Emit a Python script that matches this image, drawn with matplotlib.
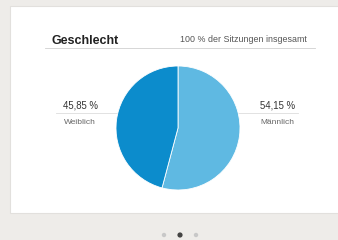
import matplotlib
matplotlib.use("Agg")
import matplotlib.pyplot as plt
from matplotlib.patches import Rectangle, Circle

title = "Geschlecht"
subtitle = "100 % der Sitzungen insgesamt"
categories = ["Männlich", "Weiblich"]
values = [54.15, 45.85]
value_labels = ["54,15 %", "45,85 %"]
colors = ["#5fb9e2", "#0c8ccc"]

W, H = 338, 240
fig = plt.figure(figsize=(W / 100, H / 100), dpi=100)
fig.patch.set_facecolor("#eeece9")

bg = fig.add_axes([0, 0, 1, 1])
bg.set_xlim(0, W)
bg.set_ylim(H, 0)
bg.axis("off")

# card
bg.add_patch(Rectangle((10, 6), 330, 207, facecolor="white", edgecolor="#e2e0dd", lw=0.8))

# header
bg.text(52, 41, title, fontsize=9.0, fontweight="bold", color="#222222", va="center", ha="left",
        family="Liberation Sans")
bg.text(307, 40, subtitle, fontsize=6.4, color="#555555", va="center", ha="right",
        family="Liberation Sans")
bg.plot([45, 315], [47.5, 47.5], color="#d0d0d0", lw=0.6)

# leader lines
bg.plot([56, 126], [113, 113], color="#dddddd", lw=0.6)
bg.plot([230, 298], [113, 113], color="#dddddd", lw=0.6)

# labels
bg.text(63, 106, value_labels[1], fontsize=6.9, color="#333333", va="center", ha="left",
        family="Liberation Sans")
bg.text(64, 123, categories[1], fontsize=6.0, color="#666666", va="center", ha="left",
        family="Liberation Sans")
bg.text(295, 106, value_labels[0], fontsize=6.9, color="#333333", va="center", ha="right",
        family="Liberation Sans")
bg.text(294, 123, categories[0], fontsize=6.0, color="#666666", va="center", ha="right",
        family="Liberation Sans")

# pager dots
for x, c in zip([164, 180, 196], ["#c8c8c8", "#444444", "#c8c8c8"]):
    bg.add_patch(Circle((x, 235), 2.6 if c == "#444444" else 2.2, facecolor=c, edgecolor="none"))

# pie
cx, cy, r = 178, 128, 62
pax = fig.add_axes([(cx - r) / W, (H - cy - r) / H, 2 * r / W, 2 * r / H])
pax.pie(values, colors=colors, startangle=90, counterclock=False,
        wedgeprops=dict(edgecolor="white", linewidth=0.6))
pax.set_xlim(-1, 1)
pax.set_ylim(-1, 1)
pax.set_aspect("equal")
pax.axis("off")

fig.savefig("out.png", dpi=100, facecolor=fig.get_facecolor())
